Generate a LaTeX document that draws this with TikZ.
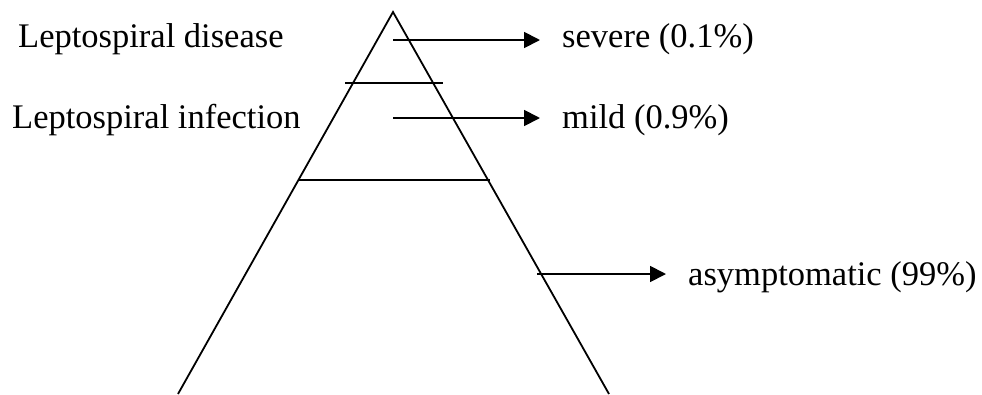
\documentclass[tikz,border=0pt]{standalone}
\usepackage{fontspec}
\setmainfont{Liberation Serif}
\usetikzlibrary{arrows.meta,positioning}

\begin{document}
\begin{tikzpicture}[
        x=1pt, y=-1pt,
        edge/.style={line width=1.8pt, line join=miter},
        label/.style={inner sep=0pt, anchor=base west, font=\fontsize{34.5}{40}\selectfont},
        arrow/.style={-{Triangle[length=16pt,width=16pt]}, line width=1.8pt, shorten >=22pt}
    ]
    \useasboundingbox (0,0) rectangle (982,394);

    % Pyramid corners
    \coordinate (apex) at (393,12);
    \coordinate (baseL) at (178,394);
    \coordinate (baseR) at (609,394);

    % Cross bars
    \coordinate (bar1L) at (345,83);
    \coordinate (bar1R) at (443,83);
    \coordinate (bar2L) at (298,180);
    \coordinate (bar2R) at (490,180);

    % Arrow starts
    \coordinate (from1) at (393,40);
    \coordinate (from2) at (393,118);
    \coordinate (from3) at (537,274);

    % Left labels
    \node[label] (disease) at (18,47) {Leptospiral disease};
    \node[label] (infection) at (12,128) {Leptospiral infection};

    % Right labels
    \node[label] (severe) at (562,47) {severe (0.1\%)};
    \node[label] (mild) at (562,128) {mild (0.9\%)};
    \node[label] (asym) at (688,285) {asymptomatic (99\%)};

    % Pyramid
    \draw[edge] (baseL) -- (apex) -- (baseR);
    \draw[edge] (bar1L) -- (bar1R);
    \draw[edge] (bar2L) -- (bar2R);

    % Arrows
    \draw[arrow] (from1) -- (from1 -| severe.west);
    \draw[arrow] (from2) -- (from2 -| mild.west);
    \draw[arrow] (from3) -- (from3 -| asym.west);

\end{tikzpicture}
\end{document}
